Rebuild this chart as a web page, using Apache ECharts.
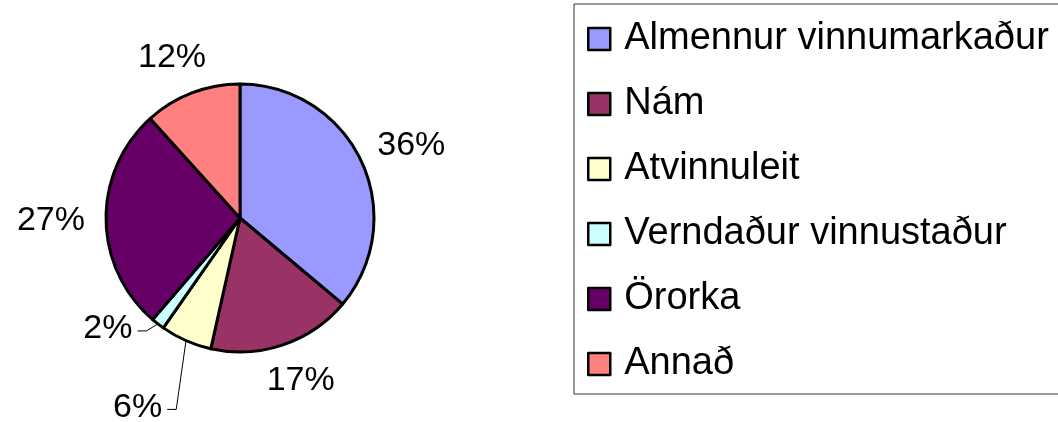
<!DOCTYPE html>
<html><head><meta charset="utf-8">
<script src="https://cdn.jsdelivr.net/npm/echarts@6/dist/echarts.min.js"></script>
<style>html,body{margin:0;padding:0;background:#fff}#c{width:1058px;height:422px}</style>
</head><body><div id="c"></div>
<script>
const categories = ['Almennur vinnumarkaður', 'Nám', 'Atvinnuleit', 'Verndaður vinnustaður', 'Örorka', 'Annað'];
const shares = [36.1, 17.4, 6.2, 1.6, 27.0, 11.7];
const colors = ['#9999FF', '#993366', '#FFFFCC', '#CCFFFF', '#660066', '#FF8080'];

const CX = 240, CY = 218, R = 134;
const LABEL_GAP = 21;
// labels moved away from their slice (drawn with leader lines): extra offset
const movedLabels = {2: [-30, 32], 3: [-22, -25]};
const FONT = '"Liberation Sans", Arial, sans-serif';

const chart = echarts.init(document.getElementById('c'), null, {renderer: 'canvas'});
chart.setOption({
  animation: false,
  backgroundColor: '#fff',
  legend: {
    orient: 'vertical', left: 574, top: 4, icon: 'rect',
    itemWidth: 22, itemHeight: 22, itemGap: 27,
    padding: [16, 60, 11, 13], borderColor: '#333', borderWidth: 1,
    selectedMode: false,
    itemStyle: {borderColor: '#000', borderWidth: 2.5},
    textStyle: {fontFamily: FONT, fontSize: 38, color: '#000', padding: [0, 0, 0, 9]},
    data: categories
  },
  series: [{
    type: 'pie',
    center: [CX, CY], radius: R, startAngle: 90, clockwise: true,
    avoidLabelOverlap: false,
    emphasis: {disabled: true},
    itemStyle: {borderColor: '#000', borderWidth: 3},
    label: {
      show: true, position: 'outside', color: '#000', fontFamily: FONT, fontSize: 34,
      formatter: p => Math.round(p.percent) + '%'
    },
    labelLine: {show: true, length: 10, length2: 10, lineStyle: {color: '#000', width: 1}},
    labelLayout: function (p) {
      const pts = p.labelLinePoints;
      if (!pts) return {};
      const ex = pts[0][0], ey = pts[0][1];
      let dx = ex - CX, dy = ey - CY;
      const d = Math.hypot(dx, dy) || 1; dx /= d; dy /= d;
      const w = p.labelRect.width, h = p.labelRect.height;
      const mv = movedLabels[p.dataIndex] || [0, 0];
      const x = ex + dx * (LABEL_GAP + w / 2) + mv[0];
      const y = ey + dy * (LABEL_GAP + h / 2) + mv[1];
      const out = {x: x, y: y, align: 'center', verticalAlign: 'middle'};
      if (movedLabels[p.dataIndex]) {
        const right = x + w / 2;
        out.labelLinePoints = [[ex, ey], [right + 14, y + 2], [right + 5, y + 2]];
      }
      return out;
    },
    data: categories.map((name, i) => ({
      name: name, value: shares[i],
      itemStyle: {color: colors[i]},
      labelLine: movedLabels[i] ? {show: true} : {show: true, lineStyle: {opacity: 0}}
    }))
  }]
});
</script></body></html>
